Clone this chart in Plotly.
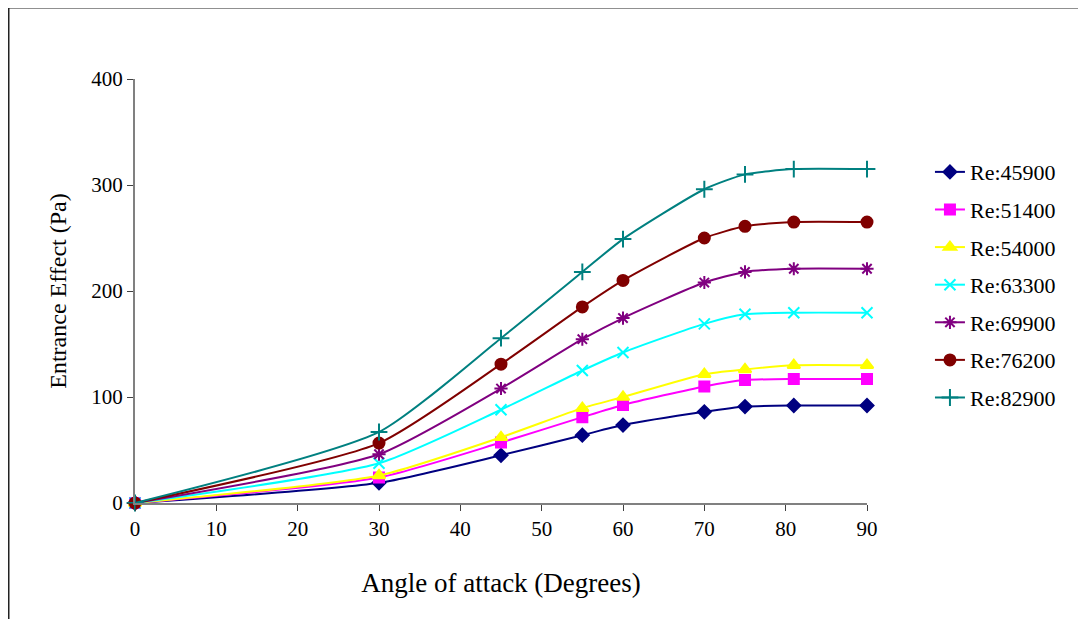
import plotly.graph_objects as go

angles = [0, 30, 45, 55, 60, 70, 75, 81, 90]
names = ["Re:45900", "Re:51400", "Re:54000", "Re:63300", "Re:69900", "Re:76200", "Re:82900"]
re45900 = [0, 19, 45, 64, 73.5, 86, 91, 92, 92]
re51400 = [0, 24, 57, 81, 92.5, 110, 116, 117, 117]
re54000 = [0, 26, 62, 89.5, 100, 121.5, 126, 130, 130]
re63300 = [0, 37.5, 88, 125, 142, 169, 178, 179.5, 179.5]
re69900 = [0, 46, 108, 154.5, 174.5, 208, 218, 221, 221]
re76200 = [0, 56.5, 131, 185, 210, 250, 261, 265, 265]
re82900 = [0, 67, 155.5, 218, 249, 296, 310, 315, 315]
series = [re45900, re51400, re54000, re63300, re69900, re76200, re82900]
colors = ["#000080", "#FF00FF", "#FFFF00", "#00FFFF", "#800080", "#800000", "#008080"]
symbols = ["diamond", "square", "triangle-up", "x-thin-open", "asterisk-open", "circle", "cross-thin-open"]
sizes = [10, 10, 11, 11, 11, 11, 12]

fig = go.Figure()
for nm, ys, c, s, sz in zip(names, series, colors, symbols, sizes):
    fig.add_trace(go.Scatter(
        x=angles, y=ys, name=nm, mode="lines+markers", legendgroup=nm,
        line=dict(color=c, width=2, shape="spline", smoothing=0.6),
        marker=dict(symbol=s, size=sz, color=c, line=dict(color=c, width=2)),
    ))

font = "Liberation Serif, Times New Roman, serif"
# page body has an 8px margin: plot area placed at absolute x 135..867, y 79..503
fig.update_layout(
    width=1078, height=611,
    margin=dict(l=127, r=219, t=71, b=116),
    paper_bgcolor="white", plot_bgcolor="white",
    font=dict(family=font, color="black", size=21),
    showlegend=True,
    legend=dict(x=1.086, y=0.83, xanchor="left", yanchor="top",
                font=dict(family=font, size=22, color="black"),
                tracegroupgap=6, bgcolor="rgba(0,0,0,0)"),
    xaxis=dict(range=[0, 90], tickvals=list(range(0, 91, 10)),
               showgrid=False, zeroline=False, showline=True, linecolor="#808080", linewidth=2,
               ticks="outside", ticklen=6, tickcolor="#404040",
               tickfont=dict(family=font, size=21),
               title=dict(text="Angle of attack (Degrees)", font=dict(family=font, size=27), standoff=33)),
    yaxis=dict(range=[0, 400], tickvals=[0, 100, 200, 300, 400],
               showgrid=False, zeroline=False, showline=True, linecolor="#808080", linewidth=2,
               ticks="outside", ticklen=6, tickcolor="#404040",
               tickfont=dict(family=font, size=21),
               title=dict(text="Entrance Effect (Pa)", font=dict(family=font, size=24), standoff=18)),
    shapes=[dict(type="rect", xref="paper", yref="paper",
                 x0=(8.5 - 135) / 732, x1=(1095 - 135) / 732,
                 y0=-(640 - 503) / 424, y1=1 + (79 - 7.5) / 424,
                 line=dict(color="#222222", width=2), fillcolor="rgba(0,0,0,0)", layer="below")],
)
fig.update_traces(cliponaxis=False)
fig.write_html("out.html")
